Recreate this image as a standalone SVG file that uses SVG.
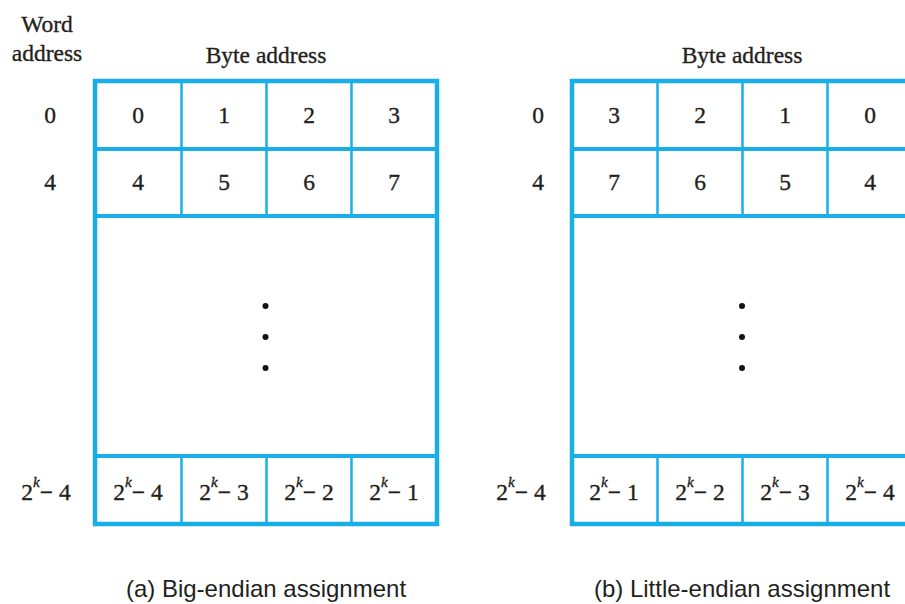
<svg xmlns="http://www.w3.org/2000/svg" width="905" height="604" viewBox="0 0 905 604">
<style>
.t{font-family:"Liberation Serif","Times New Roman",serif;font-size:23.5px;fill:#231f20;stroke:#231f20;stroke-width:0.35;text-anchor:middle}
.k{font-style:italic;font-size:15px}
.cap{font-family:"Liberation Sans",Arial,sans-serif;font-size:24px;fill:#231f20;text-anchor:middle}
.outer{fill:none;stroke:#1aaee9;stroke-width:4.5}
.hl{stroke:#1aaee9;stroke-width:4}
.vl{stroke:#1aaee9;stroke-width:2.5}
.dot{fill:#111}
</style>
<rect width="905" height="604" fill="#fff"/>
<g id="labels">
<text class="t" x="47" y="32">Word</text>
<text class="t" x="47" y="61">address</text>
<text class="t" x="266" y="63">Byte address</text>
<text class="t" x="742" y="63">Byte address</text>
<text class="t" x="50" y="123">0</text>
<text class="t" x="50" y="190">4</text>
<text class="t" x="46" y="500">2<tspan class="k" dy="-13">k</tspan><tspan dy="13">− 4</tspan></text>
<text class="t" x="538" y="123">0</text>
<text class="t" x="538" y="190">4</text>
<text class="t" x="521" y="500">2<tspan class="k" dy="-13">k</tspan><tspan dy="13">− 4</tspan></text>
<text class="cap" x="266" y="597">(a) Big-endian assignment</text>
<text class="cap" x="742" y="597">(b) Little-endian assignment</text>
</g>
<g id="big-endian">
<rect class="outer" x="95" y="81" width="342" height="443"/>
<line class="hl" x1="95" y1="149" x2="437" y2="149"/>
<line class="hl" x1="95" y1="216" x2="437" y2="216"/>
<line class="hl" x1="95" y1="456" x2="437" y2="456"/>
<line class="vl" x1="181.5" y1="81" x2="181.5" y2="216"/>
<line class="vl" x1="266.5" y1="81" x2="266.5" y2="216"/>
<line class="vl" x1="351.5" y1="81" x2="351.5" y2="216"/>
<line class="vl" x1="181.5" y1="456" x2="181.5" y2="524"/>
<line class="vl" x1="266.5" y1="456" x2="266.5" y2="524"/>
<line class="vl" x1="351.5" y1="456" x2="351.5" y2="524"/>
<text class="t" x="138" y="123">0</text>
<text class="t" x="224" y="123">1</text>
<text class="t" x="309" y="123">2</text>
<text class="t" x="394" y="123">3</text>
<text class="t" x="138" y="190">4</text>
<text class="t" x="224" y="190">5</text>
<text class="t" x="309" y="190">6</text>
<text class="t" x="394" y="190">7</text>
<circle class="dot" cx="265.5" cy="306" r="3"/>
<circle class="dot" cx="265.5" cy="337" r="3"/>
<circle class="dot" cx="265.5" cy="368" r="3"/>
<text class="t" x="138" y="500">2<tspan class="k" dy="-13">k</tspan><tspan dy="13">− 4</tspan></text>
<text class="t" x="224" y="500">2<tspan class="k" dy="-13">k</tspan><tspan dy="13">− 3</tspan></text>
<text class="t" x="309" y="500">2<tspan class="k" dy="-13">k</tspan><tspan dy="13">− 2</tspan></text>
<text class="t" x="394" y="500">2<tspan class="k" dy="-13">k</tspan><tspan dy="13">− 1</tspan></text>
</g>
<g id="little-endian">
<rect class="outer" x="572" y="81" width="342" height="443"/>
<line class="hl" x1="572" y1="149" x2="914" y2="149"/>
<line class="hl" x1="572" y1="216" x2="914" y2="216"/>
<line class="hl" x1="572" y1="456" x2="914" y2="456"/>
<line class="vl" x1="657.5" y1="81" x2="657.5" y2="216"/>
<line class="vl" x1="742.5" y1="81" x2="742.5" y2="216"/>
<line class="vl" x1="827.5" y1="81" x2="827.5" y2="216"/>
<line class="vl" x1="657.5" y1="456" x2="657.5" y2="524"/>
<line class="vl" x1="742.5" y1="456" x2="742.5" y2="524"/>
<line class="vl" x1="827.5" y1="456" x2="827.5" y2="524"/>
<text class="t" x="614" y="123">3</text>
<text class="t" x="700" y="123">2</text>
<text class="t" x="785" y="123">1</text>
<text class="t" x="870" y="123">0</text>
<text class="t" x="614" y="190">7</text>
<text class="t" x="700" y="190">6</text>
<text class="t" x="785" y="190">5</text>
<text class="t" x="870" y="190">4</text>
<circle class="dot" cx="742" cy="306" r="3"/>
<circle class="dot" cx="742" cy="337" r="3"/>
<circle class="dot" cx="742" cy="368" r="3"/>
<text class="t" x="614" y="500">2<tspan class="k" dy="-13">k</tspan><tspan dy="13">− 1</tspan></text>
<text class="t" x="700" y="500">2<tspan class="k" dy="-13">k</tspan><tspan dy="13">− 2</tspan></text>
<text class="t" x="785" y="500">2<tspan class="k" dy="-13">k</tspan><tspan dy="13">− 3</tspan></text>
<text class="t" x="870" y="500">2<tspan class="k" dy="-13">k</tspan><tspan dy="13">− 4</tspan></text>
</g>
<g id="connectors"></g>
</svg>
